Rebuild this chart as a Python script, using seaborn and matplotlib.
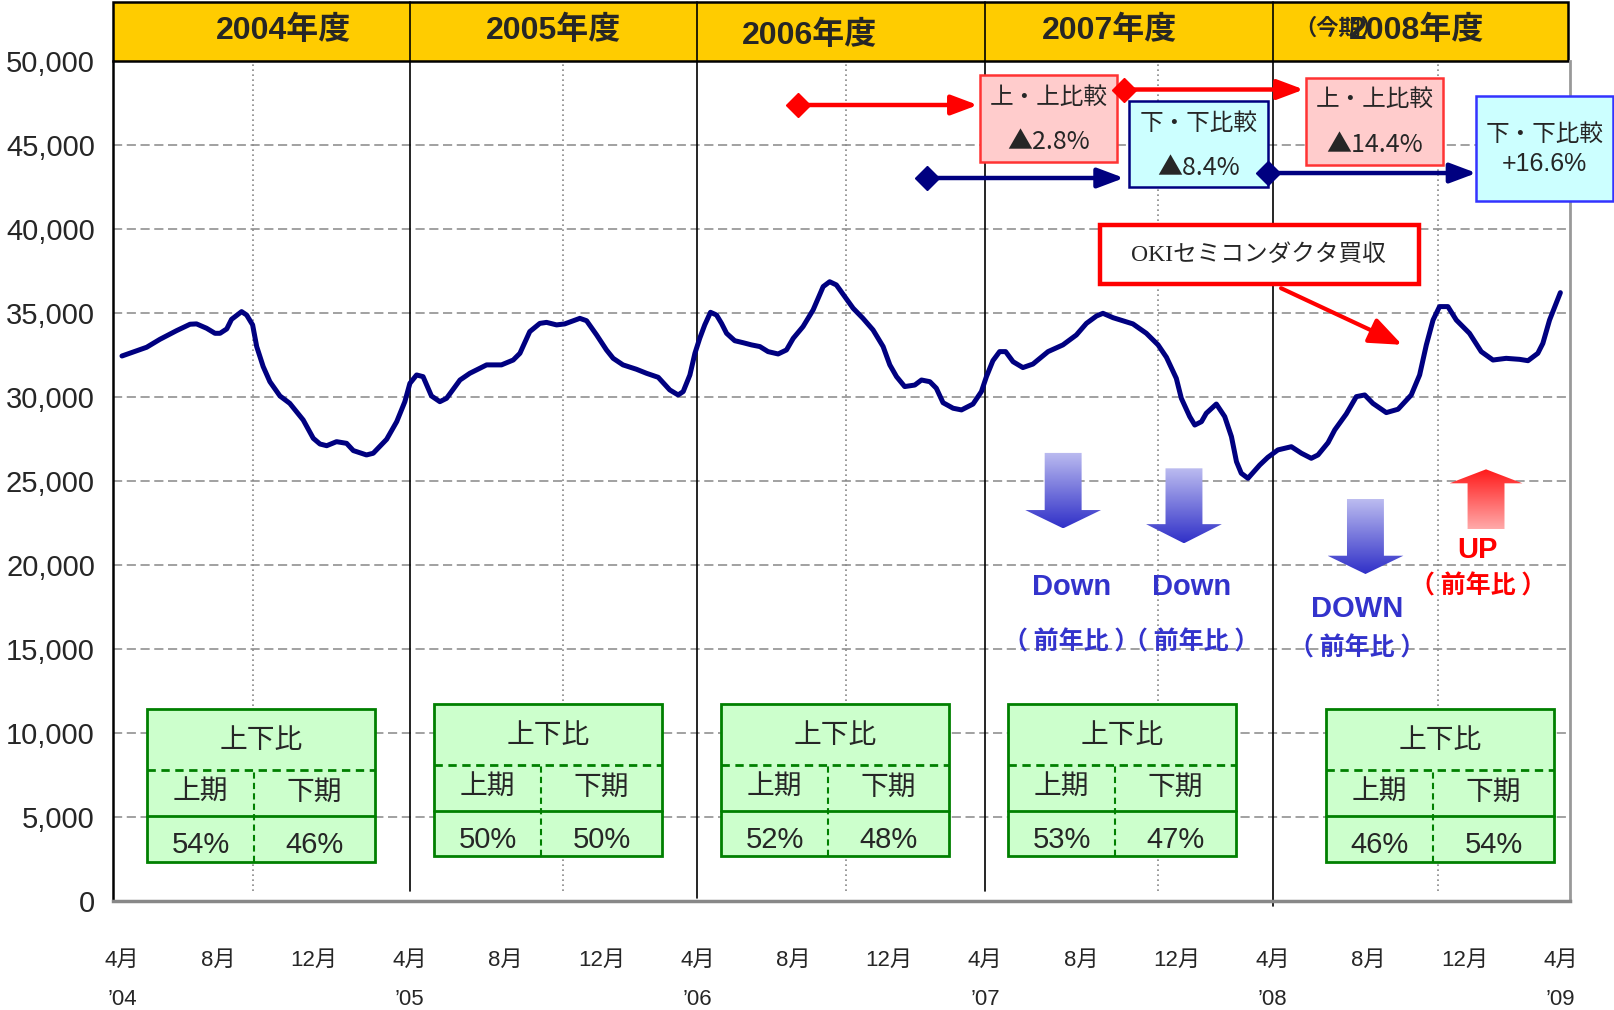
import numpy as np
import pandas as pd
import matplotlib
matplotlib.use('Agg')
import matplotlib.pyplot as plt
import seaborn as sns
from matplotlib.patches import Rectangle, Polygon
from matplotlib.colors import LinearSegmentedColormap
from matplotlib.ticker import FuncFormatter


# ─── DATA ─────────────────────────────────────────────────────────────────────

# months since April 2004
month_pos = [
    0.0, 1.03, 1.58, 2.28, 2.84, 3.11, 3.53, 3.88, 4.09, 4.37, 4.57, 4.99, 5.2,
    5.45, 5.62, 5.89, 6.17, 6.59, 7.0, 7.56, 7.98, 8.26, 8.54, 8.95, 9.37, 9.65,
    10.2, 10.48, 11.04, 11.46, 11.8, 12.01, 12.29, 12.56, 12.91, 13.26, 13.54,
    14.1, 14.51, 15.21, 15.83, 16.32, 16.6, 17.01, 17.43, 17.71, 18.13, 18.47,
    19.1, 19.38, 19.8, 20.21, 20.49, 20.9, 21.46, 21.88, 22.37, 22.85, 23.2,
    23.41, 23.69, 23.9, 24.1, 24.31, 24.55, 24.8, 25.01, 25.22, 25.56, 25.91,
    26.26, 26.61, 26.95, 27.37, 27.72, 28.0, 28.41, 28.83, 29.25, 29.52, 29.8,
    30.15, 30.5, 30.91, 31.33, 31.75, 32.03, 32.31, 32.65, 33.07, 33.35, 33.7,
    33.97, 34.25, 34.67, 35.02, 35.5, 35.85, 36.06, 36.33, 36.61, 36.86, 37.17,
    37.58, 38.0, 38.63, 39.25, 39.81, 40.23, 40.65, 40.92, 41.34, 42.17, 42.73,
    43.22, 43.57, 43.98, 44.19, 44.54, 44.75, 45.03, 45.23, 45.65, 46.0, 46.28,
    46.49, 46.69, 46.97, 47.46, 47.8, 48.22, 48.78, 49.2, 49.61, 49.89, 50.31,
    50.59, 51.07, 51.49, 51.84, 52.18, 52.74, 53.23, 53.78, 54.13, 54.41, 54.69,
    54.96, 55.31, 55.66, 56.21, 56.7, 57.19, 57.74, 58.3, 58.65, 59.06, 59.27,
    59.55, 60.0,
]
units = [
    32460, 32980, 33450, 33970, 34350, 34370, 34110, 33810, 33810, 34070, 34640,
    35100, 34900, 34310, 33020, 31830, 30930, 30080, 29640, 28650, 27560, 27220,
    27120, 27360, 27260, 26830, 26570, 26670, 27500, 28550, 29740, 30830, 31330,
    31230, 30080, 29740, 29940, 31030, 31430, 31930, 31930, 32220, 32620, 33910,
    34400, 34460, 34310, 34370, 34700, 34560, 33710, 32820, 32320, 31930, 31670,
    31430, 31190, 30440, 30140, 30340, 31330, 32620, 33510, 34310, 35060, 34900,
    34400, 33810, 33370, 33250, 33120, 33020, 32720, 32580, 32820, 33510, 34210,
    35200, 36590, 36880, 36690, 35990, 35300, 34700, 34010, 33020, 31930, 31230,
    30640, 30730, 31030, 30930, 30540, 29680, 29350, 29250, 29600, 30340, 31230,
    32180, 32720, 32720, 32120, 31770, 31980, 32720, 33120, 33710, 34400, 34840,
    35000, 34740, 34370, 33810, 33120, 32380, 31130, 29940, 28850, 28350, 28550,
    29050, 29600, 28850, 27660, 26170, 25480, 25180, 25970, 26430, 26870, 27060,
    26670, 26370, 26570, 27300, 28060, 29010, 30040, 30140, 29640, 29090, 29290,
    30140, 31330, 33120, 34600, 35400, 35400, 34600, 33810, 32720, 32220, 32320,
    32260, 32180, 32620, 33210, 34600, 36230,
]

fiscal_years   = ['2004年度', '2005年度', '2006年度', '2007年度', '2008年度']
first_half     = [54, 50, 52, 53, 46]
second_half    = [46, 50, 48, 47, 54]
month_labels   = ['4月', '8月', '12月']
year_labels    = ['’04', '’05', '’06', '’07', '’08', '’09']
compare_titles = ['上・上比較', '下・下比較', '上・上比較', '下・下比較']
compare_values = ['▲2.8%', '▲8.4%', '▲14.4%', '+16.6%']
trend_words    = ['Down', 'Down', 'DOWN', 'UP']


# ─── FIGURE ───────────────────────────────────────────────────────────────────

sns.set_style('white')
plt.rcParams['font.family'] = ['Liberation Sans', 'Noto Sans CJK JP', 'DejaVu Sans']
CJK = ['Noto Sans CJK JP', 'DejaVu Sans']

fig = plt.figure(figsize=(16.14, 10.10), dpi=100)
ax = fig.add_axes([0.0700, 0.1076, 0.9027, 0.8317])

df = pd.DataFrame({'month': month_pos, 'units': units})
sns.lineplot(data=df, x='month', y='units', ax=ax, color='#000080',
             linewidth=3.6, estimator=None, sort=False, zorder=5)

ax.set_xlim(-0.375, 60.4)
ax.set_ylim(0, 50000)
ax.set_xlabel('')
ax.set_ylabel('')

# y axis
ax.set_yticks(np.arange(0, 50001, 5000))
ax.yaxis.set_major_formatter(FuncFormatter(lambda v, p: f'{int(v):,}'))
ax.tick_params(axis='y', direction='in', length=7, width=1.5, color='black',
               labelsize=21, pad=13)
ax.yaxis.grid(True, color='#888888', lw=1.1, ls=(0, (6, 3)), zorder=0)
ax.xaxis.grid(False)

# x axis: 4-monthly ticks with year under April
ticks = np.arange(0, 61, 4)
labels = []
for i, t in enumerate(ticks):
    lab = month_labels[i % 3]
    if i % 3 == 0:
        lab += '\n' + year_labels[i // 3]
    labels.append(lab)
ax.set_xticks(ticks)
ax.set_xticklabels(labels)
ax.tick_params(axis='x', length=0, labelsize=16, pad=35)
for lbl in ax.get_xticklabels():
    lbl.set_linespacing(2.1)

ax.spines['top'].set_visible(False)
ax.spines['left'].set_color('black')
ax.spines['left'].set_linewidth(1.8)
ax.spines['bottom'].set_color('#888888')
ax.spines['bottom'].set_linewidth(2.5)
ax.spines['right'].set_color('#999999')
ax.spines['right'].set_linewidth(2)

# half-year dotted lines and fiscal-year solid lines
for xm in [5.45, 18.4, 30.2, 43.2, 54.9]:
    ax.axvline(xm, ymin=0.012, ymax=1, color='#888888', lw=1.2,
               ls=(0, (1, 2)), zorder=1)
for xm, y0 in zip([12, 24, 36, 48], [0.012, 0.004, 0.012, -0.005]):
    ax.axvline(xm, ymin=y0, ymax=1.0706, color='black', lw=1.2,
               clip_on=False, zorder=2)

# header band
ax.add_patch(Rectangle((0, 1.0), 0.9986, 0.0706, transform=ax.transAxes,
                       facecolor='#FFCC00', edgecolor='black', lw=1.8,
                       clip_on=False, zorder=1.5))
hx = ax.get_xaxis_transform()
for xm, yy, name in zip([6.72, 18.0, 28.7, 41.2, 54.0],
                        [1.036, 1.036, 1.030, 1.036, 1.036], fiscal_years):
    ax.text(xm, yy, name, transform=hx, ha='center', va='center',
            fontsize=23, fontweight='bold', zorder=3)
ax.text(48.9, 1.038, '（今期）', transform=hx, ha='left', va='center',
        fontsize=16, fontweight='bold', zorder=2.9)


# ─── TABLES ───────────────────────────────────────────────────────────────────

spans = [(1.05, 10.54, 2369), (13.03, 22.52, 2673), (25.0, 34.49, 2673),
         (36.97, 46.46, 2673), (50.24, 59.72, 2369)]
row_h = [2696, 2756, 3613]
green = '#008000'
for (x0, x1, yb), p1, p2 in zip(spans, first_half, second_half):
    y1 = yb + row_h[0]
    y2 = y1 + row_h[1]
    y3 = y2 + row_h[2]
    ax.add_patch(Rectangle((x0, yb), x1 - x0, y3 - yb, facecolor='#CCFFCC',
                           edgecolor=green, lw=2, zorder=4))
    ax.plot([x0, x1], [y2, y2], color=green, lw=2, ls=(0, (3, 2)), zorder=4.1)
    ax.plot([x0, x1], [y1, y1], color=green, lw=2, zorder=4.1)
    xm = x0 + 0.47 * (x1 - x0)
    ax.plot([xm, xm], [yb, y2], color=green, lw=1.5, ls=(0, (3, 2)), zorder=4.1)
    ax.text((x0 + x1) / 2, (y2 + y3) / 2 - 100, '上下比', ha='center',
            va='center', fontsize=20, zorder=4.2)
    ax.text((x0 + xm) / 2, (y1 + y2) / 2, '上期', ha='center', va='center',
            fontsize=20, zorder=4.2)
    ax.text((xm + x1) / 2, (y1 + y2) / 2, '下期', ha='center', va='center',
            fontsize=20, zorder=4.2)
    ax.text((x0 + xm) / 2, (yb + y1) / 2 - 350, f'{p1}%', ha='center',
            va='center', fontsize=21, zorder=4.2)
    ax.text((xm + x1) / 2, (yb + y1) / 2 - 350, f'{p2}%', ha='center',
            va='center', fontsize=21, zorder=4.2)


# ─── COMPARISON BOXES ─────────────────────────────────────────────────────────

box_pos = [(35.8, 41.5, 44030, 49190), (42.0, 47.8, 42500, 47643),
           (49.4, 55.1, 43845, 48994), (56.5, 62.2, 41703, 47953)]
box_fill = ['#FFCCCC', '#CCFFFF', '#FFCCCC', '#CCFFFF']
box_edge = ['#FF3333', '#000080', '#FF3333', '#3333FF']
box_text_y = [(47830, 45196), (46298, 43663), (47708, 45010), (45625, 43907)]
for (x0, x1, y0, y1), fc, ec, (ty1, ty2), title, val in zip(
        box_pos, box_fill, box_edge, box_text_y, compare_titles, compare_values):
    ax.add_patch(Rectangle((x0, y0), x1 - x0, y1 - y0, facecolor=fc,
                           edgecolor=ec, lw=1.8, clip_on=False, zorder=6))
    xc = (x0 + x1) / 2
    ax.text(xc, ty1, title, ha='center', va='center', fontsize=17, zorder=6.1,
            clip_on=False)
    fam = CJK if val.startswith('▲') else None
    ax.text(xc, ty2, val, ha='center', va='center', fontsize=18, family=fam,
            zorder=6.1, clip_on=False)


def diamond_arrow(x0, x1, y, color):
    ax.annotate('', xy=(x1, y), xytext=(x0, y), zorder=7,
                arrowprops=dict(arrowstyle='-|>,head_length=0.8,head_width=0.3',
                                color=color, lw=3.2, shrinkA=0, shrinkB=0,
                                mutation_scale=20))
    ax.plot([x0], [y], marker='D', ms=12, color=color, zorder=7.1,
            clip_on=False)


diamond_arrow(28.2, 35.7, 47399, '#FF0000')
diamond_arrow(41.8, 49.3, 48321, '#FF0000')
diamond_arrow(33.6, 41.8, 43054, '#000080')
diamond_arrow(47.8, 56.5, 43350, '#000080')

# acquisition note
ax.add_patch(Rectangle((40.8, 36744), 13.3, 3488, facecolor='white',
                       edgecolor='#FF0000', lw=3.2, zorder=6))
ax.text(47.4, 38452, 'OKIセミコンダクタ買収', ha='center', va='center',
        fontsize=17, family=['Liberation Serif', 'Noto Sans CJK JP'], zorder=6.1)
ax.annotate('', xy=(53.4, 33125), xytext=(48.35, 36494), zorder=7,
            arrowprops=dict(arrowstyle='-|>,head_length=1.0,head_width=0.4',
                            color='#FF0000', lw=3, shrinkA=0, shrinkB=0,
                            mutation_scale=20))


# ─── GRADIENT ARROWS ──────────────────────────────────────────────────────────

def gradient_arrow(xc, y_tail, y_base, y_tip, c_tail, c_tip, shaft=0.77, head=1.58):
    verts = [(xc - shaft, y_tail), (xc + shaft, y_tail), (xc + shaft, y_base),
             (xc + head, y_base), (xc, y_tip), (xc - head, y_base),
             (xc - shaft, y_base)]
    poly = Polygon(verts, closed=True, facecolor='none', edgecolor='none',
                   transform=ax.transData)
    ax.add_patch(poly)
    lo, hi = min(y_tail, y_tip), max(y_tail, y_tip)
    c_lo, c_hi = (c_tail, c_tip) if y_tail < y_tip else (c_tip, c_tail)
    cmap = LinearSegmentedColormap.from_list('g', [c_lo, c_hi])
    grad = np.linspace(0, 1, 256).reshape(-1, 1)
    im = ax.imshow(grad, extent=[xc - head, xc + head, lo, hi], origin='lower',
                   aspect='auto', cmap=cmap, zorder=3)
    im.set_clip_path(poly)


blue_light, blue_dark = '#BCBCF0', '#3030C8'
gradient_arrow(39.26, 26690, 23290, 22200, blue_light, blue_dark)
gradient_arrow(44.3, 25774, 22450, 21310, blue_light, blue_dark)
gradient_arrow(51.87, 23946, 20571, 19482, blue_light, blue_dark)
gradient_arrow(56.9, 22161, 24881, 25714, '#FFAAAA', '#FF1A1A', head=1.52)
ax.set_xlim(-0.375, 60.4)
ax.set_ylim(0, 50000)

blue_txt = '#3333CC'
for (xc, yw, yp), word in zip([(39.6, 18726, 15393), (44.6, 18726, 15393),
                               (51.54, 17399, 15060), (56.56, 20911, 18726)],
                              trend_words):
    col = '#FF0000' if word == 'UP' else blue_txt
    ax.text(xc, yw, word, ha='center', va='center', fontsize=21,
            fontweight='bold', color=col, zorder=6)
    ax.text(xc, yp, '（ 前年比 ）', ha='center', va='center', fontsize=18,
            fontweight='bold', color=col, family=CJK, zorder=6)

fig.savefig('out.png', dpi=100, facecolor='white')
